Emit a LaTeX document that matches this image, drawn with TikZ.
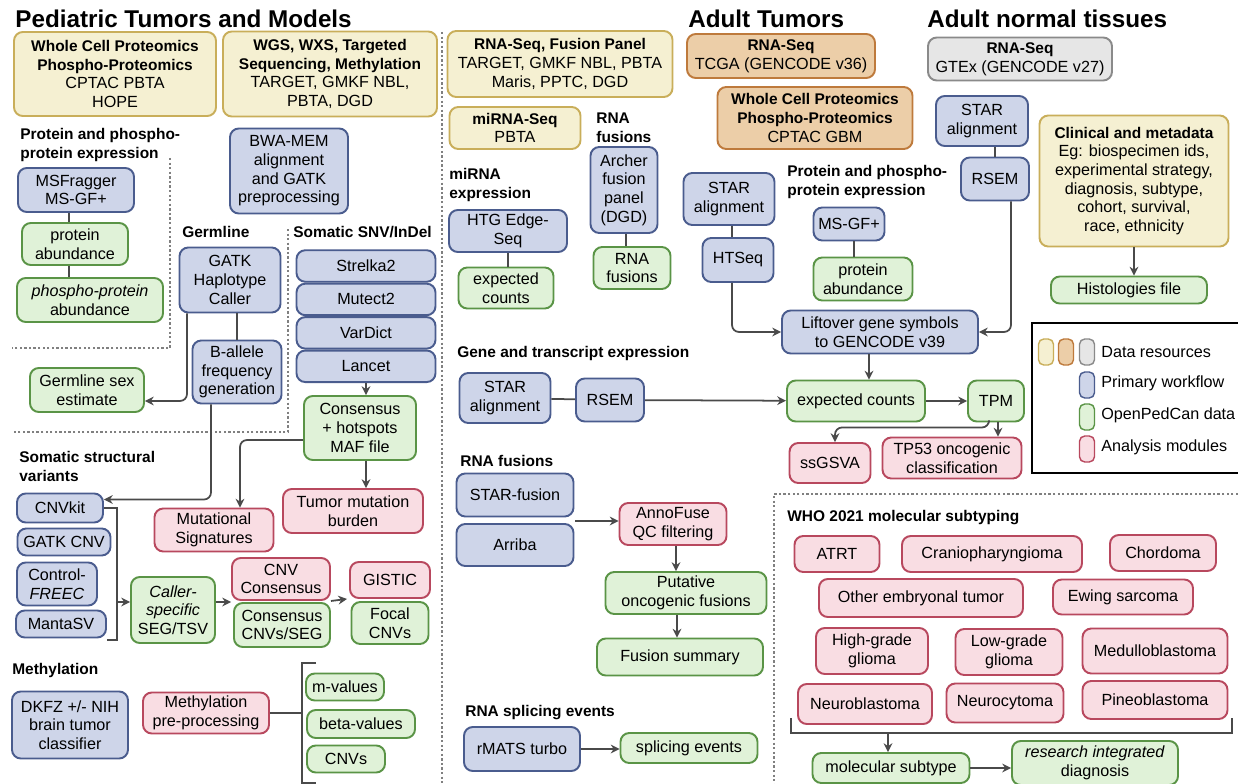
\documentclass[tikz,border=0pt]{standalone}
\usepackage{fontspec}
\setmainfont{Liberation Sans}
\usetikzlibrary{positioning,arrows.meta}

\definecolor{resfill}{HTML}{F5F0D2}
\definecolor{resline}{HTML}{C9AE5A}
\definecolor{adultfill}{HTML}{ECCEA8}
\definecolor{adultline}{HTML}{BE7A3C}
\definecolor{normfill}{HTML}{E6E6E6}
\definecolor{normline}{HTML}{8A8A8A}
\definecolor{flowfill}{HTML}{CED5E9}
\definecolor{flowline}{HTML}{4A5C8E}
\definecolor{datafill}{HTML}{E0F2D8}
\definecolor{dataline}{HTML}{5A9446}
\definecolor{modfill}{HTML}{F9DDE3}
\definecolor{modline}{HTML}{B8485E}
\definecolor{linkgray}{HTML}{4A4A4A}

\newcommand{\boldhead}[1]{{\fontsize{8.8}{10.6}\selectfont\bfseries #1}}

\tikzset{
  boxbase/.style={rounded corners=5pt, line width=1.1pt, align=center, inner sep=1pt,
    font=\fontsize{9.2}{10.6}\selectfont},
  boxsize/.style 2 args={minimum width=#1*0.02cm, minimum height=#2*0.02cm},
  resbox/.style={boxbase, draw=resline, fill=resfill},
  adultbox/.style={boxbase, draw=adultline, fill=adultfill},
  normbox/.style={boxbase, draw=normline, fill=normfill},
  flowbox/.style={boxbase, draw=flowline, fill=flowfill},
  databox/.style={boxbase, draw=dataline, fill=datafill},
  modbox/.style={boxbase, draw=modline, fill=modfill},
  plainline/.style={line width=1pt, draw=linkgray},
  flowarrow/.style={line width=1pt, draw=linkgray, rounded corners=4pt,
    -{Stealth[length=5pt,width=5pt]}},
  divider/.style={line width=0.9pt, draw=gray, dash pattern=on 1.3pt off 1.3pt},
  sectionlabel/.style={font=\fontsize{8.8}{10.6}\selectfont\bfseries, align=left, inner sep=0pt},
  titlelabel/.style={font=\fontsize{13.8}{16}\selectfont\bfseries, inner sep=0pt, anchor=west},
  legendtext/.style={font=\fontsize{9.2}{10.6}\selectfont, inner sep=0pt, anchor=west},
}

\begin{document}
\begin{tikzpicture}[x=0.02cm, y=-0.02cm]
\useasboundingbox (0,0) rectangle (1238,784);
\fill[white] (0,0) rectangle (1238,784);

% section dividers
\draw[divider] (170,158) -- (170,348) -- (12,348);
\draw[divider] (288,229) -- (288,432) -- (12,432);
\draw[divider] (442,32) -- (442,784);
\draw[divider] (1238,494) -- (774,494) -- (774,784);

% titles
\node[titlelabel] (pedtitle) at (15,18.5) {Pediatric Tumors and Models};
\node[titlelabel] (adulttitle) at (688,18.5) {Adult Tumors};
\node[titlelabel] (normaltitle) at (927,18.5) {Adult normal tissues};

% data resources
\node[resbox, boxsize={202}{84}] (pedprot) at (115,74) {\boldhead{Whole Cell Proteomics}\\\boldhead{Phospho-Proteomics}\\CPTAC PBTA\\HOPE};
\node[resbox, boxsize={214}{85}] (peddna) at (330,74) {\boldhead{WGS, WXS, Targeted}\\\boldhead{Sequencing, Methylation}\\TARGET, GMKF NBL,\\PBTA, DGD};
\node[resbox, boxsize={225}{66}] (pedrna) at (560,64) {\boldhead{RNA-Seq, Fusion Panel}\\TARGET, GMKF NBL, PBTA\\Maris, PPTC, DGD};
\node[resbox, boxsize={131}{42}] (pedmirna) at (515,128) {\boldhead{miRNA-Seq}\\PBTA};
\node[adultbox, boxsize={188}{44}] (tcga) at (781,56) {\boldhead{RNA-Seq}\\TCGA (GENCODE v36)};
\node[adultbox, boxsize={195}{62}] (gbm) at (815,118) {\boldhead{Whole Cell Proteomics}\\\boldhead{Phospho-Proteomics}\\CPTAC GBM};
\node[normbox, boxsize={184}{43}] (gtex) at (1020,59) {\boldhead{RNA-Seq}\\GTEx (GENCODE v27)};
\node[resbox, boxsize={189}{131}] (clin) at (1134,181) {\boldhead{Clinical and metadata}\\Eg: biospecimen ids,\\experimental strategy,\\diagnosis, subtype,\\cohort, survival,\\race, ethnicity};
\node[databox, boxsize={156}{27}] (histo) at (1129,290) {Histologies file};
\draw[flowarrow] (clin.south) -- (clin.south |- histo.north);

% pediatric proteomics
\node[sectionlabel, anchor=north west] (protlbl) at (20,128) {Protein and phospho-\\protein expression};
\node[flowbox, boxsize={116}{44}] (msfrag) at (76,190) {MSFragger\\MS-GF+};
\node[databox, boxsize={106}{42}] (protab) at (75,244) {protein\\abundance};
\node[databox, boxsize={146}{44}] (phosab) at (90,300) {\textit{phospho-protein}\\abundance};
\draw[plainline] ([xshift=-0.12cm]protab.north) -- ([xshift=-0.12cm]protab.north |- msfrag.south);
\draw[plainline] ([xshift=-0.12cm]protab.south) -- ([xshift=-0.12cm]protab.south |- phosab.north);

% germline and somatic SNV
\node[flowbox, boxsize={118}{85}] (bwa) at (289,171) {BWA-MEM\\alignment\\and GATK\\preprocessing};
\node[sectionlabel, anchor=west] (germlbl) at (182,232) {Germline};
\node[sectionlabel, anchor=west] (snvlbl) at (293,232) {Somatic SNV/InDel};
\node[flowbox, boxsize={101}{65}] (haplo) at (230,280) {GATK\\Haplotype\\Caller};
\node[flowbox, boxsize={89}{63}] (baf) at (237,372) {B-allele\\frequency\\generation};
\node[databox, boxsize={114}{44}] (sex) at (87,390) {Germline sex\\estimate};
\draw[plainline] (baf.north) -- (baf.north |- haplo.south);
\draw[flowarrow] ([xshift=-0.86cm]haplo.south) |- ([yshift=-0.22cm]sex.east);

\node[flowbox, boxsize={139}{31.5}] (strelka) at (366,266) {Strelka2};
\node[flowbox, boxsize={139}{31.5}, below=0pt of strelka] (mutect) {Mutect2};
\node[flowbox, boxsize={139}{31.5}, below=0pt of mutect] (vardict) {VarDict};
\node[flowbox, boxsize={139}{31.5}, below=0pt of vardict] (lancet) {Lancet};
\node[databox, boxsize={112}{64}] (maf) at (360,428) {Consensus\\+ hotspots\\MAF file};
\node[modbox, boxsize={140}{44}] (tmb) at (353,511) {Tumor mutation\\burden};
\node[modbox, boxsize={119}{43}] (mutsig) at (214,530) {Mutational\\Signatures};
\draw[flowarrow] (lancet.south) -- (lancet.south |- maf.north);
\draw[flowarrow] (maf.south -| lancet) -- (tmb.north -| lancet);
\draw[flowarrow] ([yshift=-0.24cm]maf.west) -| ([xshift=0.52cm]mutsig.north);

% somatic structural variants
\node[sectionlabel, anchor=north west] (svlbl) at (19,451) {Somatic structural\\variants};
\node[flowbox, boxsize={86}{29}] (cnvkit) at (60,508) {CNVkit};
\node[flowbox, boxsize={93}{27}] (gatkcnv) at (64,542) {GATK CNV};
\node[flowbox, boxsize={80}{43}] (freec) at (57,584) {Control-\\\textit{FREEC}};
\node[flowbox, boxsize={90}{27}] (manta) at (61,624) {MantaSV};
\draw[flowarrow] ([xshift=-0.52cm]baf.south) |- ([yshift=0.17cm]cnvkit.east);
\coordinate (svbrk) at (117,602);
\draw[plainline] (cnvkit.east) -| (117,640) -- (107,640);

\node[databox, boxsize={84}{66}] (callseg) at (173,610) {\textit{Caller-}\\\textit{specific}\\SEG/TSV};
\node[modbox, boxsize={98}{42}] (cnvcons) at (281,579) {CNV\\Consensus};
\node[databox, boxsize={96}{44}] (conscnv) at (282,625) {Consensus\\CNVs/SEG};
\node[modbox, boxsize={80}{36}] (gistic) at (390,580) {GISTIC};
\node[databox, boxsize={77}{42}] (focal) at (390,623) {Focal\\CNVs};
\draw[flowarrow] (svbrk) -- (callseg.west |- svbrk);
\draw[flowarrow] (callseg.east |- svbrk) -- (cnvcons.west |- svbrk);
\draw[flowarrow] (cnvcons.south east) -- ([xshift=-0.04cm]gistic.south west);

% methylation
\node[sectionlabel, anchor=west] (methlbl) at (12,670) {Methylation};
\node[flowbox, boxsize={116}{67}] (dkfz) at (70,725) {DKFZ +/- NIH\\brain tumor\\classifier};
\node[modbox, boxsize={126}{41}] (methpre) at (206,713) {Methylation\\pre-processing};
\node[databox, boxsize={78}{27}] (mval) at (345,687) {m-values};
\node[databox, boxsize={108}{28}] (bval) at (361,724) {beta-values};
\node[databox, boxsize={78}{27}] (cnvs) at (346,759) {CNVs};
\coordinate (methbrk) at (302,713);
\draw[plainline] (methpre.east) -- (methbrk);
\draw[plainline] (316,663) -| (302,783) -- (316,783);

% miRNA and fusion panel
\node[sectionlabel, anchor=north west] (mirlbl) at (449,168) {miRNA\\expression};
\node[sectionlabel, anchor=north west] (panellbl) at (596,113) {RNA\\fusions};
\node[flowbox, boxsize={118}{42}] (htg) at (508,231) {HTG Edge-\\Seq};
\node[databox, boxsize={95}{41}] (mircounts) at (506,288) {expected\\counts};
\node[flowbox, boxsize={67}{86}] (archer) at (624,190) {Archer\\fusion\\panel\\(DGD)};
\node[databox, boxsize={77}{42}] (archfus) at (632,268) {RNA\\fusions};
\draw[plainline] (htg.south) -- (htg.south |- mircounts.north);
\draw[plainline] ([xshift=0.04cm]archer.south) -- ([xshift=0.04cm]archer.south |- archfus.north);

% adult tumors
\node[flowbox, boxsize={91}{52}] (staradult) at (729,199) {STAR\\alignment};
\node[flowbox, boxsize={71}{44}] (htseq) at (738,260) {HTSeq};
\draw[plainline] ([xshift=0.06cm]staradult.south) -- ([xshift=0.06cm]staradult.south |- htseq.north);
\node[sectionlabel, anchor=north west] (protlbl2) at (787,165) {Protein and phospho-\\protein expression};
\node[flowbox, boxsize={71}{33}] (msgf) at (849,224) {MS-GF+};
\node[databox, boxsize={99}{43}] (protab2) at (863,279) {protein\\abundance};
\draw[plainline] ([xshift=0.1cm]msgf.south) -- ([xshift=0.1cm]msgf.south |- protab2.north);
\node[flowbox, boxsize={196}{43}] (liftover) at (880,332) {Liftover gene symbols\\to GENCODE v39};
\draw[flowarrow] ([xshift=-0.12cm]htseq.south) |- (liftover.west);

% adult normal tissues
\node[flowbox, boxsize={92}{50}] (stargtex) at (982,121) {STAR\\alignment};
\node[flowbox, boxsize={68}{43}] (rsemgtex) at (995,179) {RSEM};
\draw[plainline] (rsemgtex.north) -- (rsemgtex.north |- stargtex.south);
\draw[flowarrow] ([xshift=0.32cm]rsemgtex.south) |- (liftover.east);

% gene and transcript expression
\node[sectionlabel, anchor=west] (genelbl) at (457,354) {Gene and transcript expression};
\node[flowbox, boxsize={91}{50}] (stargene) at (505,398) {STAR\\alignment};
\node[flowbox, boxsize={68}{43}] (rsemgene) at (610,400) {RSEM};
\node[databox, boxsize={138}{41}] (expcounts) at (856,401) {expected counts};
\node[databox, boxsize={56}{41}] (tpm) at (996,401) {TPM};
\node[modbox, boxsize={81}{40}] (ssgsva) at (830,463) {ssGSVA};
\node[modbox, boxsize={139}{41}] (tp53) at (952,458) {TP53 oncogenic\\classification};
\draw[plainline] (stargene) -- (rsemgene);
\draw[flowarrow] (rsemgene) -- (expcounts);
\draw[flowarrow] ([xshift=-0.22cm]liftover.south) -- ([xshift=-0.22cm]liftover.south |- expcounts.north);
\draw[flowarrow] (expcounts) -- (tpm);
\draw[flowarrow] ([xshift=-0.14cm]tpm.south) -- ++(0,5) -| ([xshift=0.1cm]ssgsva.north);
\draw[flowarrow] ([xshift=0.04cm]tpm.south) -- ([xshift=0.04cm]tpm.south |- tp53.north);

% legend
\draw[line width=1.3pt] (1032,323) rectangle (1250,473);
\node[resbox, boxsize={15}{26}, rounded corners=3pt, line width=0.8pt] (legres) at (1046,352) {};
\node[adultbox, boxsize={15}{26}, rounded corners=3pt, line width=0.8pt] (legadult) at (1066,352) {};
\node[normbox, boxsize={15}{26}, rounded corners=3pt, line width=0.8pt] (legnorm) at (1087,352) {};
\node[flowbox, boxsize={15}{26}, rounded corners=3pt, line width=0.8pt] (legflow) at (1087,385) {};
\node[databox, boxsize={15}{26}, rounded corners=3pt, line width=0.8pt] (legdata) at (1087,417) {};
\node[modbox, boxsize={15}{26}, rounded corners=3pt, line width=0.8pt] (legmod) at (1087,449) {};
\node[legendtext] (legrestxt) at (1101,352) {Data resources};
\node[legendtext] (legflowtxt) at (1101,383) {Primary workflow};
\node[legendtext] (legdatatxt) at (1101,415) {OpenPedCan data};
\node[legendtext] (legmodtxt) at (1101,447) {Analysis modules};

% RNA fusions
\node[sectionlabel, anchor=west] (fuslbl) at (460,461) {RNA fusions};
\node[flowbox, boxsize={117}{43}] (starfus) at (515,495) {STAR-fusion};
\node[flowbox, boxsize={117}{42}] (arriba) at (515,545) {Arriba};
\node[modbox, boxsize={107}{42}] (annofuse) at (673,524) {AnnoFuse\\QC filtering};
\node[databox, boxsize={161}{42}] (putative) at (686,593) {Putative\\oncogenic fusions};
\node[databox, boxsize={166}{37}] (fussum) at (680,657) {Fusion summary};
\coordinate (fusin) at (575,521);
\draw[flowarrow] (fusin) -- (annofuse.west |- fusin);
\draw[flowarrow] ([xshift=0.06cm]annofuse.south) -- ([xshift=0.06cm]annofuse.south |- putative.north);
\draw[flowarrow] ([xshift=-0.18cm]putative.south) -- ([xshift=-0.18cm]putative.south |- fussum.north);

% RNA splicing
\node[sectionlabel, anchor=west] (splicelbl) at (465,713) {RNA splicing events};
\node[flowbox, boxsize={116}{44}] (rmats) at (522,749) {rMATS turbo};
\node[databox, boxsize={137}{30}] (splice) at (689,748) {splicing events};
\draw[flowarrow] (rmats.east) -- (rmats.east -| splice.west);

% WHO subtyping
\node[sectionlabel, anchor=west] (wholbl) at (787,518) {WHO 2021 molecular subtyping};
\node[modbox, boxsize={85}{36}] (atrt) at (837,554) {ATRT};
\node[modbox, boxsize={180}{36}] (cranio) at (992,554) {Craniopharyngioma};
\node[modbox, boxsize={106}{36}] (chordoma) at (1163,553) {Chordoma};
\node[modbox, boxsize={204}{38}] (embryonal) at (921,598) {Other embryonal tumor};
\node[modbox, boxsize={140}{35}] (ewing) at (1123,597) {Ewing sarcoma};
\node[modbox, boxsize={112}{46}] (hgg) at (872,651) {High-grade\\glioma};
\node[modbox, boxsize={107}{46}] (lgg) at (1009,652) {Low-grade\\glioma};
\node[modbox, boxsize={145}{45}] (medullo) at (1155,651) {Medulloblastoma};
\node[modbox, boxsize={134}{40}] (nbl) at (865,704) {Neuroblastoma};
\node[modbox, boxsize={117}{39}] (neurocyt) at (1005,703) {Neurocytoma};
\node[modbox, boxsize={145}{38}] (pineo) at (1155,700) {Pineoblastoma};
\draw[plainline] (791,718) |- (1232,733) -- (1232,718);
\coordinate (whobrk) at (888,733);
\node[databox, boxsize={157}{30}] (molsub) at (891,768) {molecular subtype};
\node[databox, boxsize={166}{44}] (resint) at (1095,763) {\textit{research integrated}\\diagnosis};
\draw[flowarrow] (whobrk) -- (whobrk |- molsub.north);
\draw[flowarrow] (molsub.east) -- (molsub.east -| resint.west);
\end{tikzpicture}
\end{document}
